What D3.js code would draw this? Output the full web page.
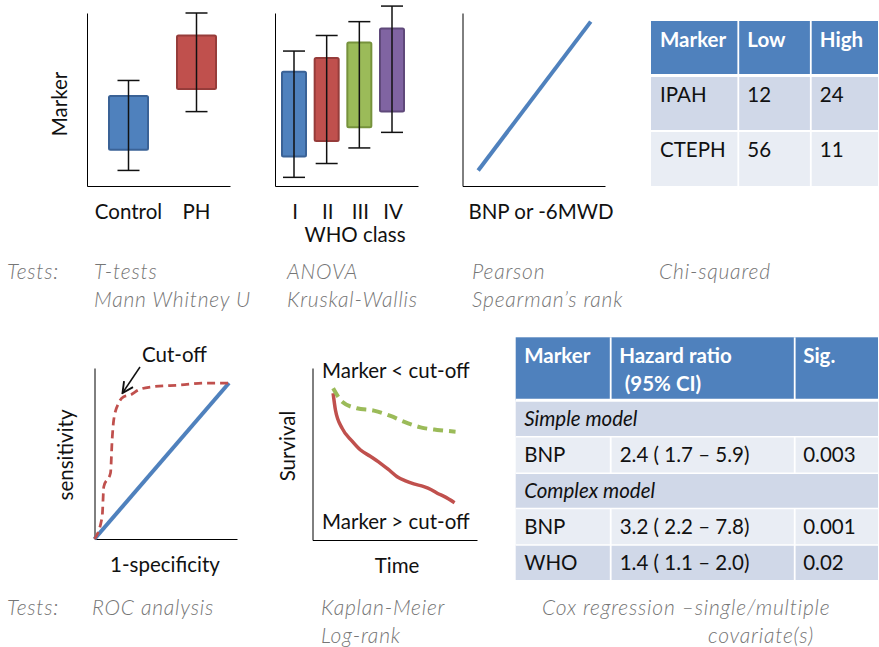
<!DOCTYPE html>
<html>
<head>
<meta charset="utf-8">
<script src="https://cdn.jsdelivr.net/npm/d3@7"></script>
<style>
  body { margin: 0; background: #fff; }
  svg text { font-family: Lato, "Open Sans", sans-serif; }
  .lbl { font-size: 20.5px; fill: #111; }
  .tests { font-size: 21px; fill: #767676; font-style: italic; font-weight: 300; letter-spacing: 0.8px; }
  .th { font-size: 20.5px; fill: #fff; font-weight: bold; }
  .td { font-size: 20.5px; fill: #111; }
</style>
</head>
<body>
<div id="vis"></div>
<script>
// ---- data ----
var groupNames = ["Control", "PH"];
var groupBoxLow = [2.1, 5.6];
var groupBoxHigh = [5.2, 8.7];
var groupWhiskLow = [0.9, 4.3];
var groupWhiskHigh = [6.1, 10.0];

var whoNames = ["I", "II", "III", "IV"];
var whoBoxLow = [1.7, 2.6, 3.4, 4.3];
var whoBoxHigh = [6.6, 7.4, 8.3, 9.1];
var whoWhiskLow = [0.5, 1.3, 2.2, 3.1];
var whoWhiskHigh = [7.8, 8.7, 9.5, 10.4];

var corrX = [0.11, 0.9];
var corrY = [0.09, 0.95];

var rocFpr = [0, 0.057, 0.069, 0.119, 0.131, 0.143, 0.18, 0.217, 0.267, 0.326, 0.415, 0.637, 0.835, 1];
var rocTpr = [0, 0.143, 0.335, 0.423, 0.635, 0.763, 0.872, 0.912, 0.923, 0.955, 0.974, 0.987, 1.0, 1];
var diagX = [0, 1];
var diagY = [0, 1];

var kmLowTime = [12.5, 18, 26.9, 37.2, 47.3, 55.3, 65.5, 75.6, 86.7];
var kmLowSurv = [0.882, 0.804, 0.766, 0.752, 0.721, 0.688, 0.655, 0.640, 0.630];
var kmHighTime = [12.5, 13.9, 18, 24, 29.1, 35, 41.2, 46, 51.3, 56, 61.4, 67.5, 72, 75.6, 80, 86.1];
var kmHighSurv = [0.853, 0.756, 0.649, 0.575, 0.523, 0.487, 0.446, 0.41, 0.368, 0.345, 0.326, 0.310, 0.292, 0.272, 0.252, 0.217];

var chiCols = ["Marker", "Low", "High"];
var chiRows = ["IPAH", "CTEPH"];
var chiLow = [12, 56];
var chiHigh = [24, 11];

var coxCols = ["Marker", "Hazard ratio", "Sig."];
var coxRows = [
  { group: "Simple model" },
  { name: "BNP", hr: "2.4 ( 1.7 \u2013 5.9)", sig: "0.003" },
  { group: "Complex model" },
  { name: "BNP", hr: "3.2 ( 2.2 \u2013 7.8)", sig: "0.001" },
  { name: "WHO", hr: "1.4 ( 1.1 \u2013 2.0)", sig: "0.02" }
];

var testsTop = [["T-tests", "Mann Whitney U"], ["ANOVA", "Kruskal-Wallis"], ["Pearson", "Spearman\u2019s rank"], ["Chi-squared"]];
var testsBottom = [["ROC analysis"], ["Kaplan-Meier", "Log-rank"], ["Cox regression \u2013single/multiple", "covariate(s)"]];

var boxColors = ["#4f81bd", "#c0504d", "#9bbb59", "#8064a2"];
var boxStrokes = ["#3a6296", "#963c3a", "#76923c", "#5f497a"];

// ---- svg ----
var width = 879, height = 647;
var svg = d3.select("#vis").append("svg")
  .attr("width", width)
  .attr("height", height);

// draws the L shaped frame of a small panel
function frame(left, top, right, bottom) {
  var fy = d3.scaleLinear().range([bottom, top]);
  var fx = d3.scaleLinear().range([left, right]);
  svg.append("g")
    .attr("transform", "translate(" + left + ",0)")
    .call(d3.axisLeft(fy).tickValues([]).tickSizeOuter(0));
  svg.append("g")
    .attr("transform", "translate(0," + bottom + ")")
    .call(d3.axisBottom(fx).tickValues([]).tickSizeOuter(0));
}

function boxes(x, y, names, lo, hi, wlo, whi, colors, strokes, bw) {
  var g = svg.append("g");
  names.forEach(function (n, i) {
    g.append("rect")
      .attr("x", x(n) - bw / 2)
      .attr("y", y(hi[i]))
      .attr("width", bw)
      .attr("height", y(lo[i]) - y(hi[i]))
      .attr("rx", 1.5)
      .attr("fill", colors[i])
      .attr("stroke", strokes[i])
      .attr("stroke-width", 2);
    var cx = x(n);
    g.append("line").attr("x1", cx).attr("x2", cx)
      .attr("y1", y(whi[i])).attr("y2", y(wlo[i]));
    [whi[i], wlo[i]].forEach(function (v) {
      g.append("line").attr("x1", cx - 11).attr("x2", cx + 11)
        .attr("y1", y(v)).attr("y2", y(v));
    });
  });
  g.selectAll("line").attr("stroke", "#111").attr("stroke-width", 1.5);
}

// ---- panel 1 : Control vs PH ----
var yBox = d3.scaleLinear().domain([0, 10]).range([186, 13]);
var x1 = d3.scalePoint().domain(groupNames).range([128.5, 196.5]);
frame(87, 13, 230, 186);
boxes(x1, yBox, groupNames, groupBoxLow, groupBoxHigh, groupWhiskLow, groupWhiskHigh, boxColors, boxStrokes, 39);
svg.selectAll(".g1lbl").data(groupNames).enter().append("text")
  .attr("class", "lbl")
  .attr("x", function (d) { return x1(d); })
  .attr("y", 219)
  .attr("text-anchor", "middle")
  .text(function (d) { return d; });
svg.append("text").attr("class", "lbl")
  .attr("transform", "translate(67,104) rotate(-90)")
  .attr("text-anchor", "middle")
  .text("Marker");

// ---- panel 2 : WHO class ----
var x2 = d3.scalePoint().domain(whoNames).range([294, 392]);
frame(275, 13, 418, 186);
boxes(x2, yBox, whoNames, whoBoxLow, whoBoxHigh, whoWhiskLow, whoWhiskHigh, boxColors, boxStrokes, 24);
svg.selectAll(".g2lbl").data(whoNames).enter().append("text")
  .attr("class", "lbl")
  .attr("x", function (d) { return x2(d) + 1; })
  .attr("y", 219)
  .attr("text-anchor", "middle")
  .text(function (d) { return d; });
svg.append("text").attr("class", "lbl")
  .attr("x", 355).attr("y", 242)
  .attr("text-anchor", "middle")
  .text("WHO class");

// ---- panel 3 : correlation ----
var x3 = d3.scaleLinear().domain([0, 1]).range([462.5, 605]);
var y3 = d3.scaleLinear().domain([0, 1]).range([186, 13]);
frame(462.5, 13, 605, 186);
svg.append("path")
  .datum(d3.zip(corrX, corrY))
  .attr("d", d3.line().x(function (d) { return x3(d[0]); }).y(function (d) { return y3(d[1]); }))
  .attr("stroke", "#4f81bd").attr("stroke-width", 4).attr("fill", "none");
svg.append("text").attr("class", "lbl")
  .attr("x", 541).attr("y", 219)
  .attr("text-anchor", "middle")
  .text("BNP or -6MWD");

// ---- tables ----
function table(edgesX, edgesY, fills) {
  var g = svg.append("g");
  for (var r = 0; r < edgesY.length - 1; r++) {
    g.append("rect")
      .attr("x", edgesX[0]).attr("y", edgesY[r])
      .attr("width", edgesX[edgesX.length - 1] - edgesX[0])
      .attr("height", edgesY[r + 1] - edgesY[r])
      .attr("fill", fills[r]);
  }
  return g;
}
function gridLine(xa, ya, xb, yb, w) {
  svg.append("line")
    .attr("x1", xa).attr("y1", ya).attr("x2", xb).attr("y2", yb)
    .attr("stroke", "#fff").attr("stroke-width", w);
}

// chi-squared table
var chiX = [651, 738.3, 810.8, 878];
var chiY = [21, 75.5, 131, 186];
table(chiX, chiY, ["#4f81bd", "#d0d8e8", "#e9edf4"]);
gridLine(651, 75.5, 878, 75.5, 3);
gridLine(651, 131, 878, 131, 1.8);
gridLine(738.3, 21, 738.3, 186, 1.8);
gridLine(810.8, 21, 810.8, 186, 1.8);
chiCols.forEach(function (c, i) {
  svg.append("text").attr("class", "th")
    .attr("x", chiX[i] + 9).attr("y", 47).text(c);
});
chiRows.forEach(function (r, i) {
  var by = [102, 157][i];
  svg.append("text").attr("class", "td").attr("x", chiX[0] + 9).attr("y", by).text(r);
  svg.append("text").attr("class", "td").attr("x", chiX[1] + 9).attr("y", by).text(chiLow[i]);
  svg.append("text").attr("class", "td").attr("x", chiX[2] + 9).attr("y", by).text(chiHigh[i]);
});

// cox table
var coxX = [515.7, 610.7, 794.7, 878];
var coxY = [337.3, 400.3, 436.7, 473.2, 508.5, 545, 580];
table(coxX, coxY, ["#4f81bd", "#d0d8e8", "#e9edf4", "#d0d8e8", "#e9edf4", "#d0d8e8"]);
gridLine(515.7, 400.3, 878, 400.3, 3);
for (var k = 2; k < coxY.length - 1; k++) gridLine(515.7, coxY[k], 878, coxY[k], 1.6);
// column lines skip the merged group rows
[[337.3, 400.3], [436.7, 473.2], [508.5, 580]].forEach(function (s) {
  gridLine(coxX[1], s[0], coxX[1], s[1], 1.8);
  gridLine(coxX[2], s[0], coxX[2], s[1], 1.8);
});
coxCols.forEach(function (c, i) {
  svg.append("text").attr("class", "th")
    .attr("x", coxX[i] + 8.5).attr("y", 363).text(c);
});
svg.append("text").attr("class", "th").attr("x", coxX[1] + 14).attr("y", 391).text("(95% CI)");
var coxBase = [426, 462, 498, 534, 570];
coxRows.forEach(function (r, i) {
  if (r.group) {
    svg.append("text").attr("class", "td").style("font-style", "italic")
      .attr("x", coxX[0] + 8.5).attr("y", coxBase[i]).text(r.group);
  } else {
    svg.append("text").attr("class", "td").attr("x", coxX[0] + 8.5).attr("y", coxBase[i]).text(r.name);
    svg.append("text").attr("class", "td").attr("x", coxX[1] + 9).attr("y", coxBase[i]).text(r.hr);
    svg.append("text").attr("class", "td").attr("x", coxX[2] + 8.5).attr("y", coxBase[i]).text(r.sig);
  }
});

// ---- panel 4 : ROC ----
var xr = d3.scaleLinear().domain([0, 1]).range([94.5, 229]);
var yr = d3.scaleLinear().domain([0, 1]).range([539, 383]);
frame(94.5, 368, 237, 539);
var rocLine = d3.line().x(function (d) { return xr(d[0]); }).y(function (d) { return yr(d[1]); });
svg.append("path")
  .datum(d3.zip(diagX, diagY))
  .attr("d", rocLine)
  .attr("stroke", "#4f81bd").attr("stroke-width", 4).attr("fill", "none");
svg.append("path")
  .datum(d3.zip(rocFpr, rocTpr))
  .attr("d", rocLine.curve(d3.curveMonotoneX))
  .attr("stroke", "#c0504d").attr("stroke-width", 2.75)
  .attr("stroke-dasharray", "8,5").attr("fill", "none");
svg.append("defs").append("marker")
  .attr("id", "arr").attr("viewBox", "0 0 10 10")
  .attr("refX", 9).attr("refY", 5)
  .attr("markerWidth", 9).attr("markerHeight", 9)
  .attr("orient", "auto")
  .append("path").attr("d", "M1,1 L9,5 L1,9")
  .attr("fill", "none").attr("stroke", "#111").attr("stroke-width", 1.4);
svg.append("line")
  .attr("x1", 140).attr("y1", 367).attr("x2", 122.5).attr("y2", 393)
  .attr("stroke", "#111").attr("stroke-width", 1.5)
  .attr("marker-end", "url(#arr)");
svg.append("text").attr("class", "lbl").attr("x", 142).attr("y", 362).text("Cut-off");
svg.append("text").attr("class", "lbl")
  .attr("transform", "translate(73,455) rotate(-90)")
  .attr("text-anchor", "middle")
  .text("sensitivity");
svg.append("text").attr("class", "lbl")
  .attr("x", 165).attr("y", 572)
  .attr("text-anchor", "middle")
  .text("1-specificity");

// ---- panel 5 : Kaplan-Meier ----
var xk = d3.scaleLinear().domain([0, 100]).range([312.5, 477.5]);
var yk = d3.scaleLinear().domain([0, 1]).range([540, 368]);
frame(312.5, 368, 477, 540);
var kmLine = d3.line().curve(d3.curveMonotoneX)
  .x(function (d) { return xk(d[0]); }).y(function (d) { return yk(d[1]); });
svg.append("path")
  .datum(d3.zip(kmHighTime, kmHighSurv))
  .attr("d", kmLine)
  .attr("stroke", "#c0504d").attr("stroke-width", 3.5).attr("fill", "none");
svg.append("path")
  .datum(d3.zip(kmLowTime, kmLowSurv))
  .attr("d", kmLine)
  .attr("stroke", "#9bbb59").attr("stroke-width", 4)
  .attr("stroke-dasharray", "10,6").attr("fill", "none");
svg.append("text").attr("class", "lbl").attr("x", 322).attr("y", 378).text("Marker < cut-off");
svg.append("text").attr("class", "lbl").attr("x", 322).attr("y", 529).text("Marker > cut-off");
svg.append("text").attr("class", "lbl")
  .attr("transform", "translate(295,446) rotate(-90)")
  .attr("text-anchor", "middle")
  .text("Survival");
svg.append("text").attr("class", "lbl")
  .attr("x", 397).attr("y", 573)
  .attr("text-anchor", "middle")
  .text("Time");

// ---- tests rows ----
function testsRow(cols, xs, base) {
  svg.append("text").attr("class", "tests").attr("x", 7).attr("y", base).text("Tests:");
  cols.forEach(function (lines, i) {
    lines.forEach(function (t, j) {
      var p = xs[i][j];
      svg.append("text").attr("class", "tests")
        .attr("x", Math.abs(p)).attr("y", base + j * 28)
        .attr("text-anchor", p < 0 ? "end" : "start")
        .text(t);
    });
  });
}
testsRow(testsTop, [[94, 94], [287, 287], [472, 472], [659]], 279);
// negative x means right aligned
testsRow(testsBottom, [[92], [321, 321], [542, -814]], 615);
</script>
</body>
</html>
